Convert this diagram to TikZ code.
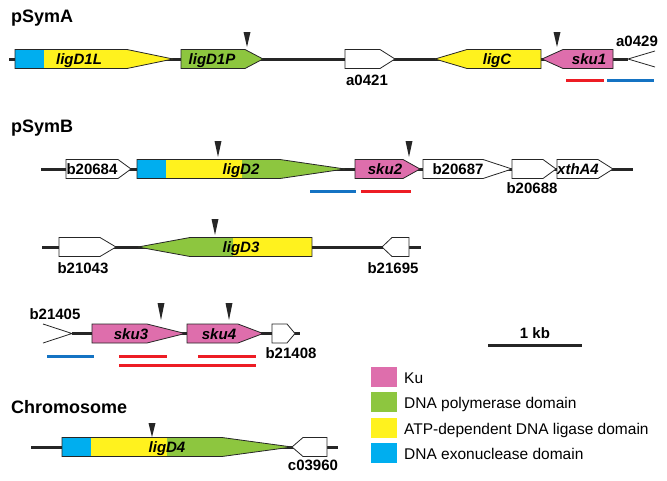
\documentclass[tikz,border=0pt]{standalone}
\usepackage{fontspec}
\setmainfont{Liberation Sans}
\definecolor{kupink}{RGB}{222,110,172}
\definecolor{polgreen}{RGB}{141,198,63}
\definecolor{ligyellow}{RGB}{255,242,30}
\definecolor{exoblue}{RGB}{0,174,239}
\definecolor{linered}{RGB}{237,28,36}
\definecolor{lineblue}{RGB}{20,115,195}
\newcommand\geneR[5]{\path[gout,fill=#5] (#1,#4-9.5) -- (#2,#4-9.5) -- (#3,#4) -- (#2,#4+9.5) -- (#1,#4+9.5) -- cycle;}
\newcommand\geneL[5]{\path[gout,fill=#5] (#1,#4) -- (#2,#4-9.5) -- (#3,#4-9.5) -- (#3,#4+9.5) -- (#2,#4+9.5) -- cycle;}
\newcommand\mymark[3]{\fill[black!85] (#1-3.5,#2) -- (#1+3.5,#2) -- (#1,#3) -- cycle;}
\begin{document}
\begin{tikzpicture}[x=1pt,y=-1pt,
  bb/.style={line width=3pt,draw=black!85},
  gout/.style={draw=black!85,line width=0.8pt,line join=miter},
  glab/.style={font=\fontsize{15}{15}\selectfont\bfseries\itshape,anchor=base,inner sep=0pt},
  tag/.style={font=\fontsize{15}{15}\selectfont\bfseries,anchor=base,inner sep=0pt},
  ttl/.style={font=\fontsize{18}{18}\selectfont\bfseries,anchor=base west,inner sep=0pt},
  leg/.style={font=\fontsize{15.5}{15.5}\selectfont,anchor=base west,inner sep=0pt},
  uline/.style={line width=3pt}]
\useasboundingbox (0,0) rectangle (667,480);

% ---------------- pSymA ----------------
\node[ttl] (tA) at (11,22) {pSymA};
\coordinate (a1) at (9,59); \coordinate (a2) at (628,59);
\draw[bb] (a1) -- (a2);
\fill[exoblue] (15,49.5) rectangle (44,68.5);
\fill[ligyellow] (44,49.5) -- (127,49.5) -- (173,59) -- (127,68.5) -- (44,68.5) -- cycle;
\geneR{15}{127}{173}{59}{none}
\node[glab] (g1) at (79,64.5) {ligD1L};
\geneR{181}{245}{263}{59}{polgreen}
\node[glab] (g2) at (212,64.5) {ligD1P};
\geneR{345}{380}{395}{59}{white}
\node[tag] (t1) at (367,85) {a0421};
\geneL{435}{467}{541}{59}{ligyellow}
\node[glab] (g3) at (497,64.5) {ligC};
\geneL{542}{563}{613}{59}{kupink}
\node[glab] (g4) at (589,64.5) {sku1};
\coordinate (a3) at (655,51); \coordinate (a4) at (655,67);
\draw[gout] (a3) -- (a2) -- (a4);
\node[tag] (t2) at (637,46.5) {a0429};
\mymark{247}{32}{47}
\mymark{557}{32}{47}
\draw[uline,linered] (566,80) -- (604,80);
\draw[uline,lineblue] (607,80) -- (654,80);

% ---------------- pSymB ----------------
\node[ttl] (tB) at (11,132) {pSymB};
\draw[bb] (41,169) -- (633,169);
\geneR{66}{118}{131}{169}{white}
\node[tag] (t3) at (92,174.5) {b20684};
\fill[exoblue] (137,159.5) rectangle (166,178.5);
\fill[ligyellow] (166,159.5) rectangle (242,178.5);
\fill[polgreen] (242,159.5) -- (280,159.5) -- (345,169) -- (280,178.5) -- (242,178.5) -- cycle;
\geneR{137}{280}{345}{169}{none}
\node[glab] (g5) at (241,174.5) {ligD2};
\geneR{355}{403}{420}{169}{kupink}
\node[glab] (g6) at (385,174.5) {sku2};
\geneR{423}{483}{512}{169}{white}
\node[tag] (t4) at (458,174.5) {b20687};
\geneR{512}{543}{556}{169}{white}
\node[tag] (t5) at (532,193) {b20688};
\geneR{557}{598}{613}{169}{white}
\node[glab] (g7) at (578,174.5) {xthA4};
\mymark{218}{141}{157}
\mymark{409}{141}{157}
\draw[uline,lineblue] (310,191) -- (356,191);
\draw[uline,linered] (361,191) -- (411,191);

% ---------------- row 3 ----------------
\draw[bb] (42,247) -- (421,247);
\geneR{59}{100}{116}{247}{white}
\node[tag] (t6) at (83,273) {b21043};
\fill[polgreen] (138,247) -- (190,237.5) -- (233,237.5) -- (233,256.5) -- (190,256.5) -- cycle;
\fill[ligyellow] (233,237.5) rectangle (312,256.5);
\geneL{138}{190}{312}{247}{none}
\node[glab] (g8) at (241,252.5) {ligD3};
\geneL{382}{392}{409}{247}{white}
\node[tag] (t7) at (393,273) {b21695};
\mymark{215}{219}{235}

% ---------------- row 4 ----------------
\draw[bb] (72,333.5) -- (300,333.5);
\coordinate (p1) at (43,324); \coordinate (p2) at (72,333.5); \coordinate (p3) at (43,343);
\draw[gout] (p1) -- (p2) -- (p3);
\node[tag] (t8) at (55,319) {b21405};
\geneR{92}{147}{185}{333.5}{kupink}
\node[glab] (g9) at (131,339) {sku3};
\geneR{187}{238}{263}{333.5}{kupink}
\node[glab] (g10) at (219,339) {sku4};
\geneR{272}{287}{295}{333.5}{white}
\node[tag] (t9) at (291,358) {b21408};
\mymark{161}{303}{320}
\mymark{229}{303}{320}
\draw[uline,lineblue] (47,356) -- (94,356);
\draw[uline,linered] (119,356) -- (167,356);
\draw[uline,linered] (198,356) -- (256,356);
\draw[uline,linered] (119,365) -- (256,365);

% ---------------- scale ----------------
\node[tag] (sc) at (535,338) {1 kb};
\draw[line width=3pt,black!85] (488,345) -- (582,345);

% ---------------- Chromosome ----------------
\node[ttl] (tC) at (11,413) {Chromosome};
\draw[bb] (31,447) -- (338,447);
\fill[exoblue] (62,437.5) rectangle (91,456.5);
\fill[ligyellow] (91,437.5) rectangle (167,456.5);
\fill[polgreen] (167,437.5) -- (222,437.5) -- (292,447) -- (222,456.5) -- (167,456.5) -- cycle;
\geneR{62}{222}{292}{447}{none}
\node[glab] (g11) at (167,452.5) {ligD4};
\geneL{292}{303}{327}{447}{white}
\node[tag] (t10) at (313,470) {c03960};
\mymark{152}{423}{437}

% ---------------- legend ----------------
\fill[kupink] (371,367) rectangle (397,387);
\node[leg] (l1) at (404,383) {Ku};
\fill[polgreen] (371,392) rectangle (397,412);
\node[leg] (l2) at (404,408) {DNA polymerase domain};
\fill[ligyellow] (371,418) rectangle (397,438);
\node[leg] (l3) at (404,434) {ATP-dependent DNA ligase domain};
\fill[exoblue] (371,443) rectangle (397,463);
\node[leg] (l4) at (404,459) {DNA exonuclease domain};
\end{tikzpicture}
\end{document}
